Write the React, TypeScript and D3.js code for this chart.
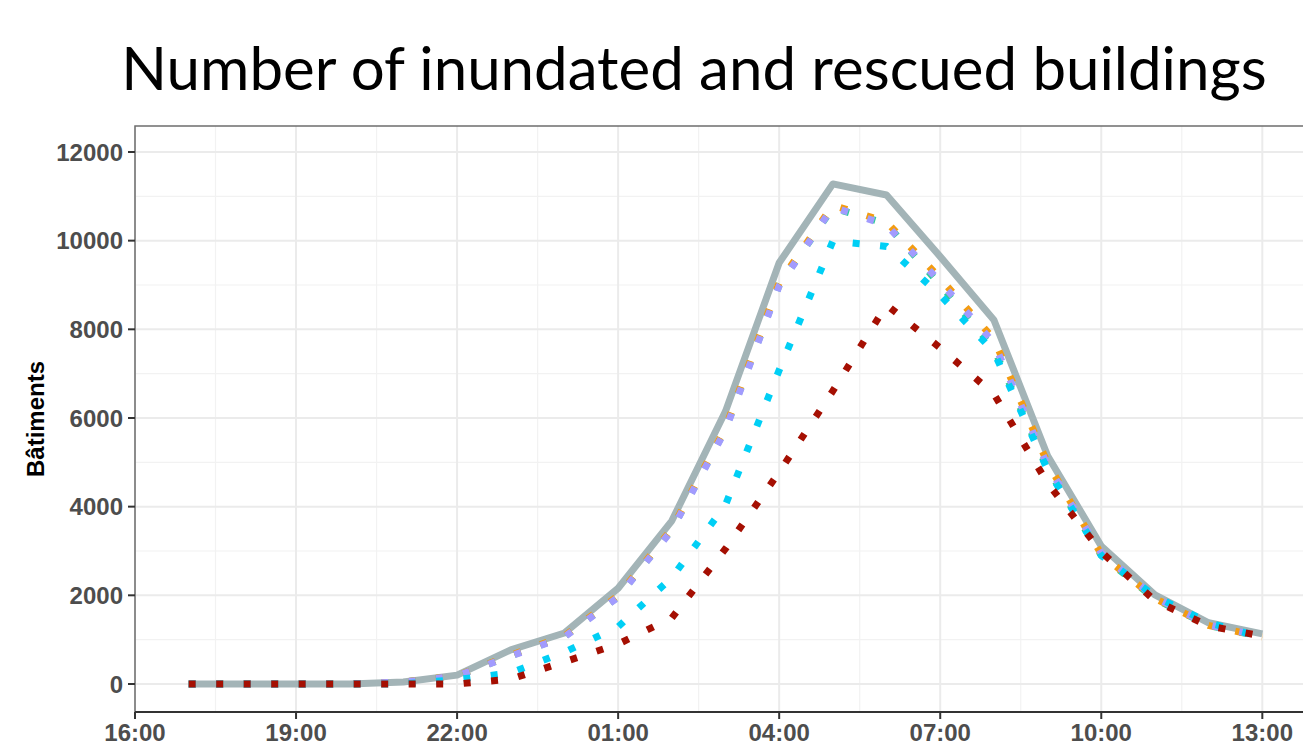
import * as d3 from "d3"
import { useEffect, useRef } from "react"

// hourly samples, 17:00 (day 1) to 13:00 (day 2)
const hours = [
  "17:00", "18:00", "19:00", "20:00", "21:00", "22:00", "23:00",
  "00:00", "01:00", "02:00", "03:00", "04:00", "05:00", "06:00",
  "07:00", "08:00", "09:00", "10:00", "11:00", "12:00", "13:00",
]

const inundated = [0, 0, 0, 0, 45, 200, 770, 1150, 2160, 3680, 6150, 9500, 11280, 11030, 9640, 8210, 5150, 3110, 2010, 1380, 1130]
const greenSeries = [0, 0, 0, 0, 45, 180, 640, 1070, 1970, 3480, 5750, 9000, 10740, 10380, 9000, 7560, 4850, 2900, 1920, 1320, 1060]
const orangeSeries = [0, 0, 0, 0, 45, 185, 650, 1080, 1990, 3500, 5780, 9050, 10800, 10420, 9150, 7780, 4980, 2930, 1930, 1320, 1060]
const purpleSeries = [0, 0, 0, 0, 45, 180, 630, 1060, 1960, 3470, 5730, 8980, 10760, 10350, 9070, 7690, 4920, 2950, 1950, 1330, 1070]
const cyanSeries = [0, 0, 0, 0, 0, 100, 250, 720, 1290, 2400, 4040, 7080, 9990, 9870, 8770, 7490, 4830, 2900, 1980, 1380, 1050]
const redSeries = [0, 0, 0, 0, 0, 0, 110, 500, 900, 1490, 3050, 4780, 6610, 8550, 7580, 6540, 4530, 2980, 1880, 1310, 1080]

const yTicks = [0, 2000, 4000, 6000, 8000, 10000, 12000]
const xTickLabels = ["16:00", "19:00", "22:00", "01:00", "04:00", "07:00", "10:00", "13:00"]

const App = () => {
  const svgRef = useRef<SVGSVGElement | null>(null)

  useEffect(() => {
    if (!svgRef.current) return
    document.body.style.margin = "0"

    const svg = d3.select(svgRef.current)
    svg.selectAll("*").remove()

    const W = 1303
    const panel = { left: 135, top: 126, bottom: 712, right: 1316 }

    // "HH:MM" -> Date, rolling over past midnight
    const toDates = (list: string[], startHour: number) => {
      let dayShift = 0
      let prev = startHour
      return list.map(h => {
        const hh = +h.split(":")[0]
        if (hh < prev) dayShift += 1
        prev = hh
        return new Date(2020, 0, 1 + dayShift, hh, 0)
      })
    }
    const dates = toDates(hours, 0)
    const xTicks = toDates(xTickLabels, 0)

    const x = d3
      .scaleTime()
      .domain([d3.timeHour.offset(dates[0], -1), d3.timeHour.offset(dates[dates.length - 1], 1)])
      .range([panel.left, panel.right])

    const y = d3.scaleLinear().domain([-632, 12586]).range([panel.bottom, panel.top])

    // gridlines
    const grid = svg.append("g")
    const xMinor = xTicks.map(d => d3.timeMinute.offset(d, 90)).filter(d => x(d) < W)
    const yMinor = d3.range(-1000, 13000, 2000).filter(v => y(v) > panel.top && y(v) < panel.bottom)

    grid.selectAll(".ymin").data(yMinor).enter().append("line")
      .attr("x1", panel.left).attr("x2", W).attr("y1", d => y(d)).attr("y2", d => y(d))
      .attr("stroke", "#f2f2f2").attr("stroke-width", 1.2)
    grid.selectAll(".xmin").data(xMinor).enter().append("line")
      .attr("x1", d => x(d)).attr("x2", d => x(d)).attr("y1", panel.top).attr("y2", panel.bottom)
      .attr("stroke", "#f2f2f2").attr("stroke-width", 1.2)
    grid.selectAll(".ymaj").data(yTicks).enter().append("line")
      .attr("x1", panel.left).attr("x2", W).attr("y1", d => y(d)).attr("y2", d => y(d))
      .attr("stroke", "#ebebeb").attr("stroke-width", 2)
    grid.selectAll(".xmaj").data(xTicks).enter().append("line")
      .attr("x1", d => x(d)).attr("x2", d => x(d)).attr("y1", panel.top).attr("y2", panel.bottom)
      .attr("stroke", "#ebebeb").attr("stroke-width", 2)

    // panel border
    svg.append("rect")
      .attr("x", panel.left).attr("y", panel.top)
      .attr("width", panel.right - panel.left).attr("height", panel.bottom - panel.top)
      .attr("fill", "none").attr("stroke", "#6e6e6e").attr("stroke-width", 1.5)

    // lines
    const line = d3
      .line<number>()
      .x((_d, i) => x(dates[i]))
      .y(d => y(d))

    svg.append("path")
      .datum(inundated)
      .attr("d", line)
      .attr("fill", "none")
      .attr("stroke", "#a3b4b7")
      .attr("stroke-width", 7)
      .attr("stroke-linejoin", "round")

    const dotted = [
      { values: greenSeries, color: "#2ecc9a" },
      { values: orangeSeries, color: "#f39c12" },
      { values: purpleSeries, color: "#a29bfe" },
      { values: cyanSeries, color: "#00cff5" },
      { values: redSeries, color: "#a50f02" },
    ]
    dotted.forEach(s => {
      svg.append("path")
        .datum(s.values)
        .attr("d", line)
        .attr("fill", "none")
        .attr("stroke", s.color)
        .attr("stroke-width", 7)
        .attr("stroke-dasharray", "7 20.5")
    })

    const axisFont = "'Liberation Sans', Arial, sans-serif"

    // y axis
    const yAxis = svg.append("g")
    yAxis.selectAll(".tick").data(yTicks).enter().append("line")
      .attr("x1", panel.left - 7).attr("x2", panel.left).attr("y1", d => y(d)).attr("y2", d => y(d))
      .attr("stroke", "#333").attr("stroke-width", 2)
    yAxis.selectAll(".lab").data(yTicks).enter().append("text")
      .attr("x", panel.left - 12).attr("y", d => y(d)).attr("dy", "0.36em")
      .attr("text-anchor", "end")
      .style("font-family", axisFont)
      .style("font-size", "24px").style("font-weight", "bold")
      .attr("fill", "#4d4d4d")
      .text(d => String(d))

    // x axis
    const xAxis = svg.append("g")
    xAxis.append("line")
      .attr("x1", panel.left).attr("x2", W).attr("y1", panel.bottom).attr("y2", panel.bottom)
      .attr("stroke", "#333").attr("stroke-width", 2)
    xAxis.selectAll(".tick").data(xTicks).enter().append("line")
      .attr("x1", d => x(d)).attr("x2", d => x(d)).attr("y1", panel.bottom).attr("y2", panel.bottom + 7)
      .attr("stroke", "#333").attr("stroke-width", 2)
    xAxis.selectAll(".lab").data(xTicks).enter().append("text")
      .attr("x", d => x(d)).attr("y", panel.bottom + 29)
      .attr("text-anchor", "middle")
      .style("font-family", axisFont)
      .style("font-size", "24px").style("font-weight", "bold")
      .attr("fill", "#4d4d4d")
      .text(d => d3.timeFormat("%H:%M")(d))

    // y label
    svg.append("text")
      .attr("transform", `translate(44,${(panel.top + panel.bottom) / 2}) rotate(-90)`)
      .attr("text-anchor", "middle")
      .style("font-family", axisFont)
      .style("font-size", "24px").style("font-weight", "bold")
      .attr("fill", "#000")
      .text("Bâtiments")

    // title
    svg.append("text")
      .attr("x", 694).attr("y", 90)
      .attr("text-anchor", "middle")
      .style("font-family", "Lato, 'Open Sans', sans-serif")
      .style("font-size", "60px")
      .attr("fill", "#000")
      .text("Number of inundated and rescued buildings")
  }, [])

  return <svg ref={svgRef} width={1303} height={746} style={{ display: "block" }} />
}

export default App
